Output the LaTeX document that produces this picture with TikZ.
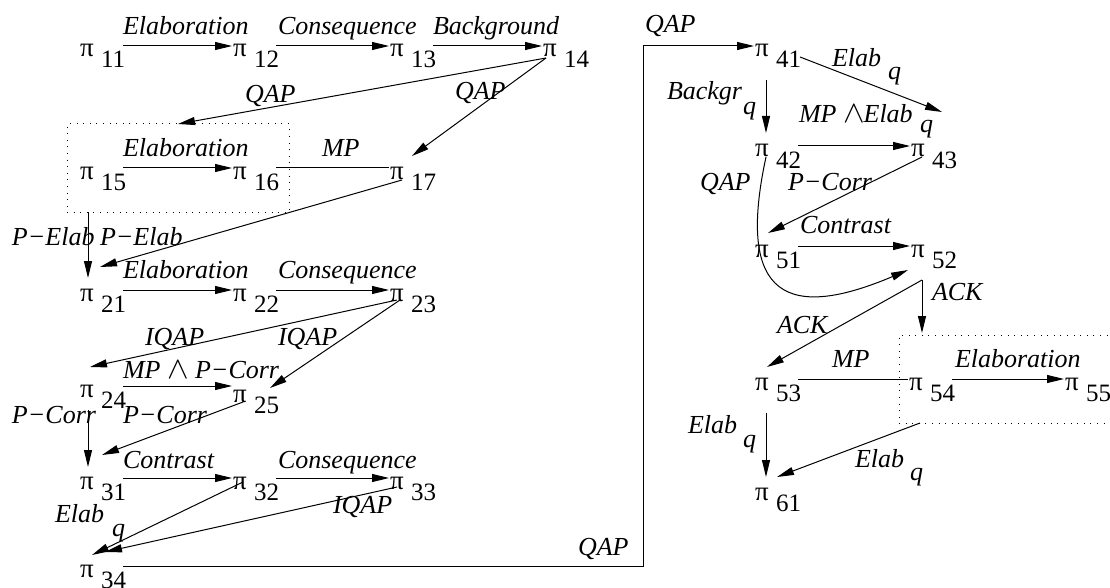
\documentclass[tikz,border=0pt]{standalone}
\usepackage{fontspec}
\setmainfont{Liberation Serif}
\usetikzlibrary{arrows.meta,calc}
\newcommand\bigwedgesym{\scalebox{1.3}[1.25]{$\wedge$}}
\begin{document}
\begin{tikzpicture}[x=1pt,y=-1pt,
  every node/.style={inner sep=0pt,outer sep=0pt},
  pinode/.style={anchor=base west,font=\fontsize{27}{30}\selectfont},
  subnode/.style={anchor=base west,font=\fontsize{25}{30}\selectfont},
  lab/.style={anchor=base west,font=\fontsize{26}{30}\selectfont\itshape},
  arr/.style={line width=1pt,-{Triangle[length=17pt,width=8pt]}},
  ln/.style={line width=1pt},
  dotbox/.style={draw,line width=1pt,dash pattern=on 1pt off 5.6pt}]
\useasboundingbox (0,0) rectangle (1110,588);
\clip (0,0) rectangle (1110,588);
\newcommand\pn[4]{%
  \node[pinode] (#1) at (#2,#3) {π};
  \node[subnode] (#1s) at (#2+21,#3+11) {#4};
  \coordinate (#1i) at ([shift={(-1,-11)}]#1.base west);
  \coordinate (#1o) at ([shift={(43,-11)}]#1.base west);}
% nodes
\pn{p11}{80}{57}{11}\pn{p12}{233}{57}{12}\pn{p13}{390}{57}{13}\pn{p14}{543}{57}{14}
\pn{p15}{80}{179}{15}\pn{p16}{233}{179}{16}\pn{p17}{390}{179}{17}
\pn{p21}{80}{301}{21}\pn{p22}{233}{301}{22}\pn{p23}{390}{301}{23}
\pn{p24}{80}{397}{24}\pn{p25}{233}{402}{25}
\pn{p31}{80}{489}{31}\pn{p32}{233}{489}{32}\pn{p33}{390}{489}{33}
\pn{p34}{80}{577}{34}
\pn{p41}{755}{57}{41}
\pn{p42}{755}{157}{42}\pn{p43}{911}{157}{43}
\pn{p51}{755}{257}{51}\pn{p52}{911}{257}{52}
\pn{p53}{755}{390}{53}\pn{p54}{909}{390}{54}\pn{p55}{1065}{390}{55}
\pn{p61}{755}{500}{61}
\node[dotbox,minimum width=222pt,minimum height=88pt] (box1) at (178,168) {};
\node[dotbox,minimum width=222pt,minimum height=88pt] (box2) at (1010,379) {};
% helper points
\coordinate (a14) at ([shift={(3,1)}]p14.base west);
\coordinate (t17) at ([shift={(22,-23)}]p17.base west);
\coordinate (s17) at ([shift={(12,1)}]p17.base west);
\coordinate (t21) at ([shift={(20,-34)}]p21.base west);
\coordinate (v21) at ([shift={(8,-23)}]p21.base west);
\coordinate (s23a) at ([shift={(7,-1)}]p23.base west);
\coordinate (s23b) at ([shift={(10,-1)}]p23.base west);
\coordinate (t24) at ([shift={(10,-30)}]p24.base west);
\coordinate (t25) at ([shift={(37,-14)}]p25.base west);
\coordinate (s25) at ([shift={(10,0)}]p25.base west);
\coordinate (t31) at ([shift={(22,-34)}]p31.base west);
\coordinate (s24) at ([shift={(8,13)}]p24.base west);
\coordinate (v31) at ([shift={(8,-22)}]p31.base west);
\coordinate (s32) at ([shift={(10,-7)}]p32.base west);
\coordinate (t34a) at ([shift={(12,-22)}]p34.base west);
\coordinate (s33) at ([shift={(7,-2)}]p33.base west);
\coordinate (t34b) at ([shift={(25,-25)}]p34.base west);
\coordinate (s41) at ([shift={(45,0)}]p41.base west);
\coordinate (t43) at ([shift={(31,-45)}]p43.base west);
\coordinate (s41v) at ([shift={(11,23)}]p41.base west);
\coordinate (t42) at ([shift={(11,-24)}]p42.base west);
\coordinate (s43) at ([shift={(11,0)}]p43.base west);
\coordinate (t51) at ([shift={(13,-24)}]p51.base west);
\coordinate (s42) at ([shift={(11,0)}]p42.base west);
\coordinate (t52) at ([shift={(-3,13)}]p52.base west);
\coordinate (s52) at ([shift={(11,23)}]p52.base west);
\coordinate (t53) at ([shift={(12,-23)}]p53.base west);
\coordinate (s53) at ([shift={(11,23)}]p53.base west);
\coordinate (t61a) at ([shift={(11,-23)}]p61.base west);
\coordinate (t61b) at ([shift={(22,-23)}]p61.base west);
\coordinate (s54) at ([shift={(11,0)}]p54.base west);
% row 1
\draw[arr] (p11o) -- (p12i);
\draw[arr] (p12o) -- (p13i);
\draw[arr] (p13o) -- (p14i);
\node[lab] (l1) at (123,35) {Elaboration};
\node[lab] (l2) at (278,35) {Consequence};
\node[lab] (l3) at (433,35) {Background};
\draw[arr] (a14) -- (box1.north);
\draw[arr] (a14) -- (t17);
\node[lab] (l4) at (245,103) {QAP};
\node[lab] (l5) at (455,100) {QAP};
% row 2
\draw[arr] (p15o) -- (p16i);
\draw[ln] (p16o) -- (p17i);
\node[lab] (l6) at (123,157) {Elaboration};
\node[lab] (l7) at (322,157) {MP};
\draw[arr] (s17) -- (t21);
\draw[arr] (v21 |- box1.south) -- (v21);
\node[lab] (l8) at (12,245) {P−Elab};
\node[lab] (l9) at (100,245) {P−Elab};
% row 3
\draw[arr] (p21o) -- (p22i);
\draw[arr] (p22o) -- (p23i);
\node[lab] (l10) at (123,278) {Elaboration};
\node[lab] (l11) at (278,278) {Consequence};
\draw[arr] (s23a) -- (t24);
\draw[arr] (s23b) -- (t25);
\node[lab] (l12) at (145,345) {IQAP};
\node[lab] (l13) at (278,345) {IQAP};
% row 4
\draw[arr] (p24o) -- (p24o -| p25i);
\node[lab] (l14) at (123,378) {MP \bigwedgesym\ P−Corr};
\draw[arr] (s25) -- (t31);
\draw[arr] (s24) -- (v31);
\node[lab] (l15) at (12,423) {P−Corr};
\node[lab] (l16) at (123,423) {P−Corr};
% row 5
\draw[arr] (p31o) -- (p32i);
\draw[arr] (p32o) -- (p33i);
\node[lab] (l17) at (123,468) {Contrast};
\node[lab] (l18) at (278,468) {Consequence};
\draw[arr] (s32) -- (t34a);
\draw[arr] (s33) -- (t34b);
\node[lab] (l19) at (55,522) {Elab};
\node[lab] (l19q) at (112,536) {q};
\node[lab] (l20) at (333,513) {IQAP};
% long QAP
\draw[arr] (p34o) -- ++(520,0) |- (p41i);
\node[lab] (l21) at (578,555) {QAP};
\node[lab] (l22) at (645,33) {QAP};
% right part
\draw[arr] (s41) -- (t43);
\node[lab] (l23) at (832,67) {Elab};
\node[lab] (l23q) at (888,80) {q};
\draw[arr] (s41v) -- (t42);
\node[lab] (l24) at (667,100) {Backgr};
\node[lab] (l24q) at (743,115) {q};
\draw[arr] (p42o) -- (p42o -| p43i);
\node[lab] (l25) at (799,123) {MP \bigwedgesym\kern-1pt Elab};
\node[lab] (l25q) at (920,133) {q};
\draw[arr] (s43) -- (t51);
\node[lab] (l26) at (788,190) {P−Corr};
\draw[arr] (s42) .. controls (735,300) and (790,320) .. (t52);
\node[lab] (l27) at (700,190) {QAP};
\draw[arr] (p51o) -- (p51o -| p52i);
\node[lab] (l28) at (800,233) {Contrast};
\draw[arr] (s52) -- ([shift={(0,-2)}]s52 |- box2.north);
\draw[arr] (s52) -- (t53);
\node[lab] (l29) at (932,300) {ACK};
\node[lab] (l30) at (777,333) {ACK};
\draw[ln] (p53o) -- (p53o -| p54i);
\node[lab] (l31) at (832,367) {MP};
\draw[arr] (p54o) -- (p54o -| p55i);
\node[lab] (l32) at (955,367) {Elaboration};
\draw[arr] (s53) -- (t61a);
\node[lab] (l33) at (688,433) {Elab};
\node[lab] (l33q) at (743,447) {q};
\draw[arr] (s54 |- box2.south) -- (t61b);
\node[lab] (l34) at (855,467) {Elab};
\node[lab] (l34q) at (910,480) {q};
\end{tikzpicture}
\end{document}
